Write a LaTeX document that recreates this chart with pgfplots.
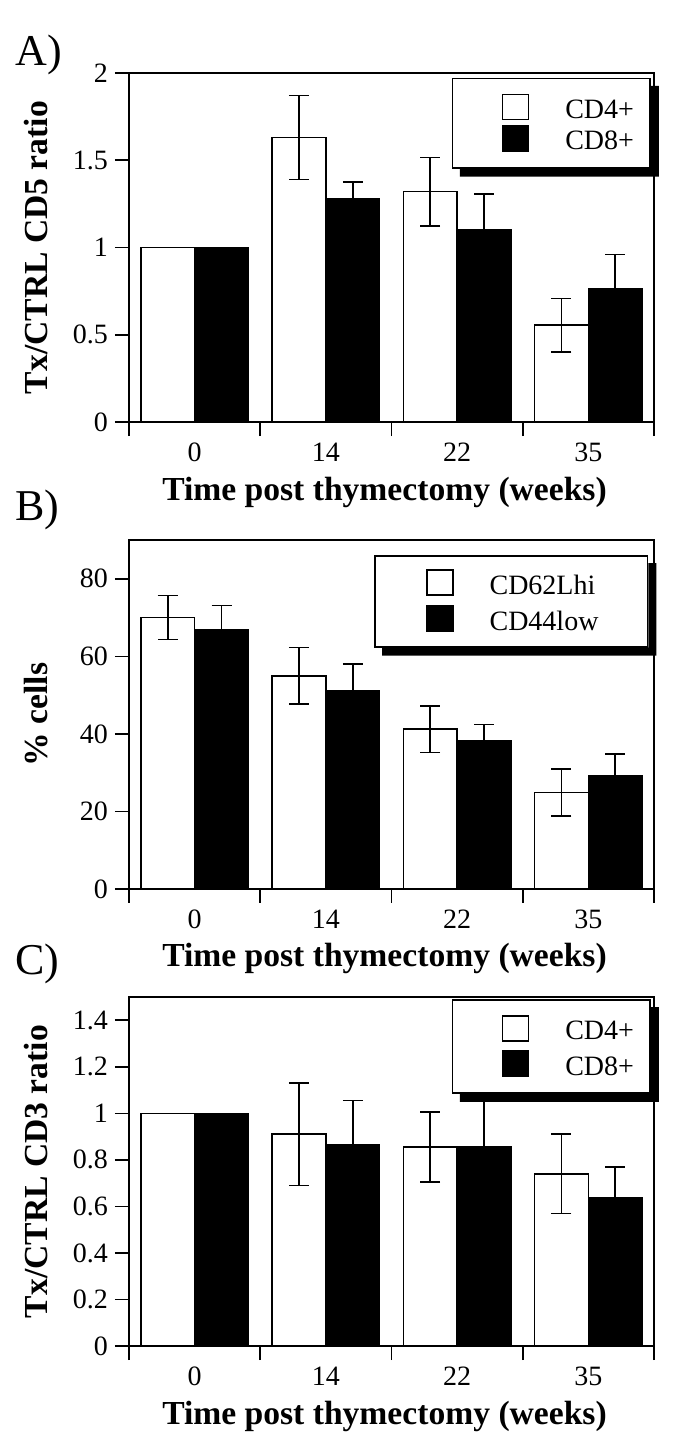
\documentclass[border=0pt]{standalone}
\usepackage{fontspec}
\setmainfont{Liberation Serif}
\usepackage{pgfplots}
\usepackage{pgfplotstable}
\pgfplotsset{compat=1.18}

% x = group index (0,14,22,35 weeks), value and error of each series
\pgfplotstableread{
x  w     we     b      be
0  1.00  0      1.00   0
1  1.63  0.24   1.28   0.095
2  1.32  0.196  1.10   0.205
3  0.555 0.153  0.765  0.195
}\dataA
\pgfplotstableread{
x  w     we     b      be
0  70.0  5.7    66.9   6.2
1  55.0  7.3    51.2   6.9
2  41.2  6.0    38.1   4.3
3  24.9  6.0    29.3   5.5
}\dataB
\pgfplotstableread{
x  w     we     b      be
0  1.00  0      1.00   0
1  0.91  0.22   0.866  0.19
2  0.855 0.15   0.855  0.20
3  0.74  0.17   0.635  0.135
}\dataC

\pgfplotsset{
  panel/.style={
    scale only axis, width=262.5pt, height=174.5pt, anchor=north west,
    xmin=-0.5, xmax=3.5, ymin=0,
    xtick={0,1,2,3}, xticklabels={0,14,22,35},
    minor xtick={-0.5,0.5,1.5,2.5,3.5},
    major x tick style={draw=none},
    xtick pos=lower, ytick pos=left,
    tick align=outside, major tick length=7pt, minor tick length=7pt,
    tick style={line width=0.8pt, black},
    axis line style={line width=0.8pt},
    ticklabel style={font=\fontsize{14}{16}\selectfont},
    /pgf/number format/assume math mode=true,
    label style={font=\fontsize{16.8}{19}\selectfont\bfseries},
    xlabel={Time post thymectomy (weeks)},
    xlabel style={at={(axis description cs:0.4867,-0.2235)}, anchor=base},
    ylabel style={at={(axis description cs:-0.177,0.5)}, anchor=center},
    legend cell align=left,
    legend style={anchor=north west, draw=black, line width=0.8pt, fill=white,
      inner xsep=8pt, inner ysep=7.5pt, row sep=2pt, column sep=18pt,
      font=\fontsize{14}{16}\selectfont, nodes={inner sep=0pt}},
  },
  errs/.style={error bars/.cd, y dir=both, y explicit,
    error bar style={line width=0.8pt, black},
    error mark options={rotate=90, mark size=5pt, line width=0.8pt, black}},
  wbar/.style={ybar, bar width=0.41, bar shift=0pt, fill=white, draw=black, line width=0.8pt,
    legend image code/.code={\path (-16.5pt,0pt); \draw[fill=white, draw=black, line width=0.8pt] (0pt,-4.5pt) rectangle (13pt,8pt);},
    errs},
  bbar/.style={ybar, bar width=0.41, bar shift=0pt, fill=black, draw=black, line width=0.8pt,
    legend image code/.code={\path (-16.5pt,0pt); \draw[fill=black, draw=black, line width=0.8pt] (0pt,-4.5pt) rectangle (13pt,8pt);},
    errs},
  shadow/.code={%
    \fill[black] ([yshift=-4pt]#1.north east) -- ([shift={(4pt,-4pt)}]#1.north east)
      -- ([shift={(4pt,-4pt)}]#1.south east) -- ([shift={(4pt,-4pt)}]#1.south west)
      -- ([xshift=4pt]#1.south west) -- (#1.south east) -- cycle;},
}

\begin{document}
\begin{tikzpicture}
\path[use as bounding box] (0pt,0pt) rectangle (342.5pt,-721pt);

\begin{axis}[panel, at={(64.5pt,-36.5pt)},
    ymax=2, ytick={0,0.5,1,1.5,2},
    ylabel={Tx/CTRL CD5 ratio},
    legend style={name=legA, at={(rel axis cs:0.615,0.986)}}]
\addplot[wbar] table[x expr=\thisrow{x}-0.205, y=w, y error=we] {\dataA};
\addlegendentry{CD4+}
\addplot[bbar] table[x expr=\thisrow{x}+0.205, y=b, y error=be] {\dataA};
\addlegendentry{CD8+}
\end{axis}
\pgfplotsset{shadow=legA}

\begin{axis}[panel, at={(64.5pt,-270pt)},
    ymax=90, ytick={0,20,40,60,80},
    ylabel={\% cells},
    legend style={name=legB, at={(rel axis cs:0.467,0.957)}, inner xsep=9pt, row sep=4pt, inner ysep=6.75pt}]
\addplot[wbar] table[x expr=\thisrow{x}-0.205, y=w, y error=we] {\dataB};
\addlegendentry{CD62Lhi\hspace*{15.5pt}}
\addplot[bbar] table[x expr=\thisrow{x}+0.205, y=b, y error=be] {\dataB};
\addlegendentry{CD44low\hspace*{15.5pt}}
\end{axis}
\pgfplotsset{shadow=legB}

\begin{axis}[panel, at={(64.5pt,-498.5pt)},
    ymax=1.5, ytick={0,0.2,0.4,0.6,0.8,1,1.2,1.4},
    ylabel={Tx/CTRL CD3 ratio},
    legend style={name=legC, at={(rel axis cs:0.615,0.994)}, row sep=4pt, inner ysep=7.5pt}]
\addplot[wbar] table[x expr=\thisrow{x}-0.205, y=w, y error=we] {\dataC};
\addlegendentry{CD4+}
\addplot[bbar] table[x expr=\thisrow{x}+0.205, y=b, y error=be] {\dataC};
\addlegendentry{CD8+}
\end{axis}
\pgfplotsset{shadow=legC}

\node[anchor=base west, font=\fontsize{22}{24}\selectfont, inner sep=0pt] at (7.5pt,-32.5pt) {A)};
\node[anchor=base west, font=\fontsize{22}{24}\selectfont, inner sep=0pt] at (7.5pt,-260pt) {B)};
\node[anchor=base west, font=\fontsize{22}{24}\selectfont, inner sep=0pt] at (7.5pt,-487pt) {C)};
\end{tikzpicture}
\end{document}
